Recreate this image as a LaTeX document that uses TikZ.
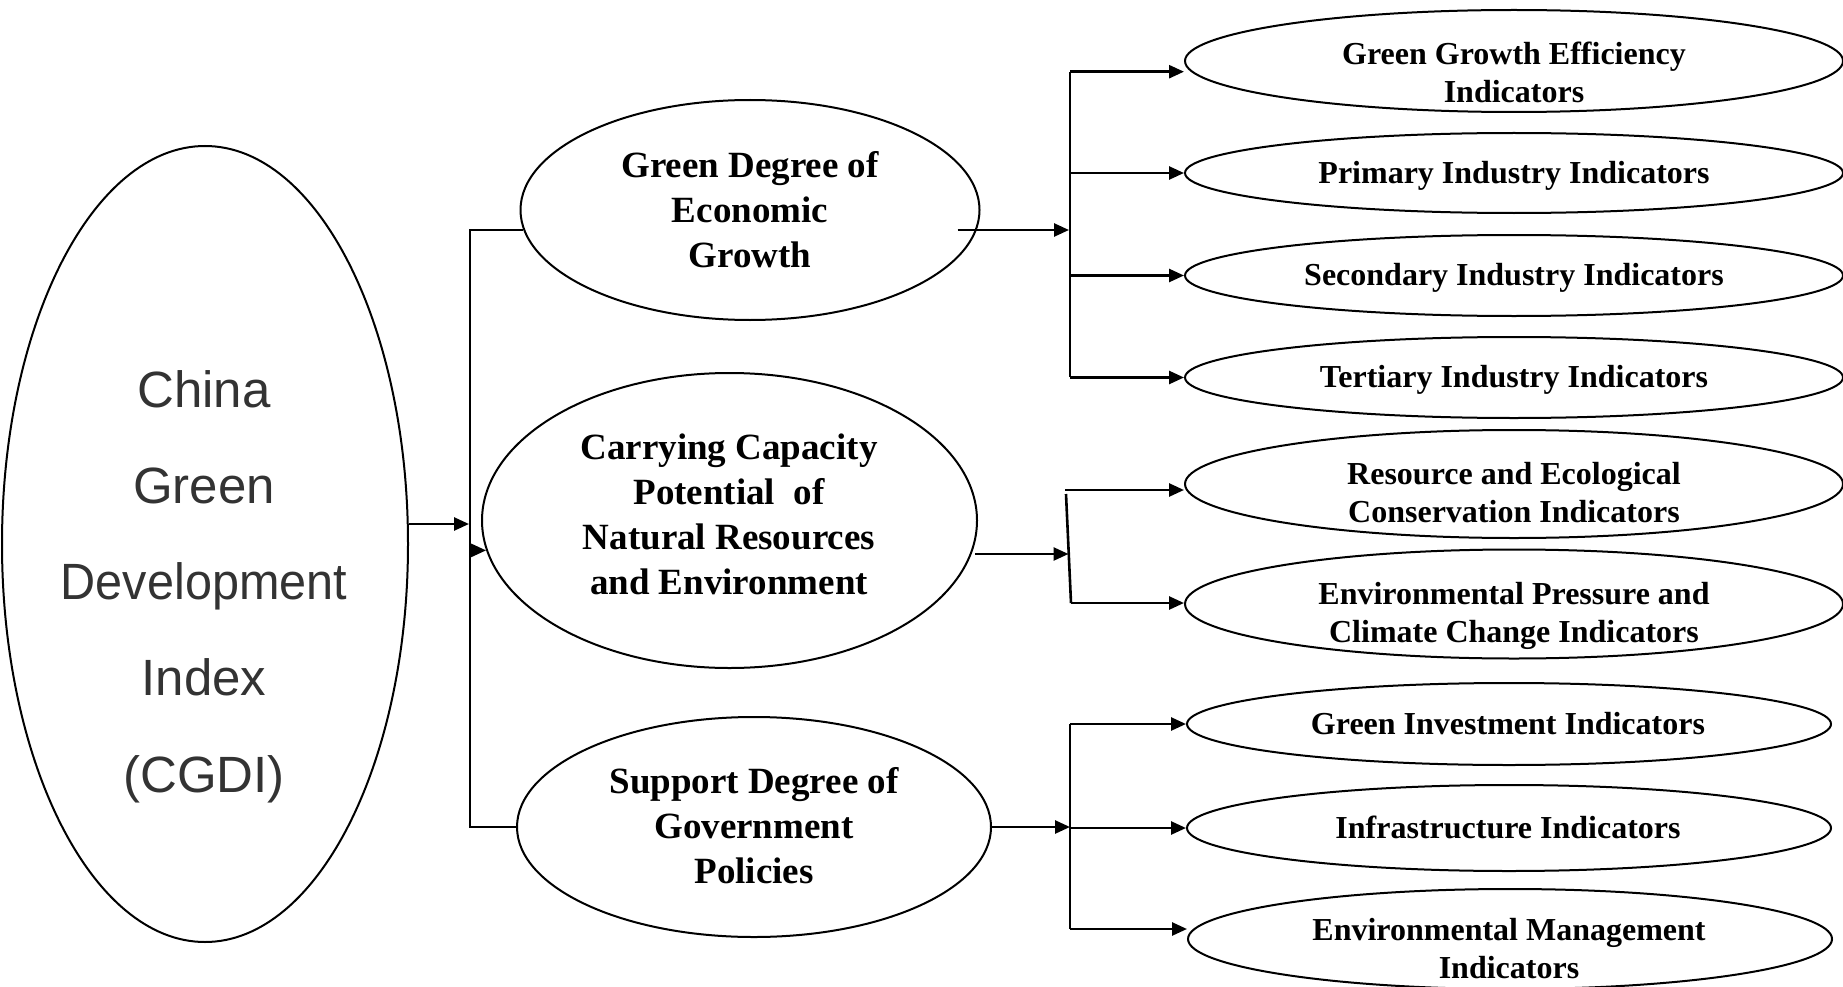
\documentclass[tikz,border=0pt]{standalone}
\usepackage{fontspec}
\usepackage{graphicx}
\setmainfont{Liberation Serif}
\newfontfamily\cgdifont{Liberation Sans}
\usetikzlibrary{arrows.meta,shapes.geometric}
\definecolor{cgdigray}{HTML}{333333}
\begin{document}
\begin{tikzpicture}[x=1pt,y=-1pt,
  ellbox/.style={draw=black, line width=2pt, ellipse, inner sep=0pt},
  bigtxt/.style={font=\cgdifont\fontsize{51}{96.25}\selectfont, text=cgdigray, align=center, inner sep=0pt},
  midtxt/.style={font=\fontsize{37}{45}\selectfont\bfseries, align=center, inner sep=0pt},
  rtxt/.style={font=\fontsize{32}{38}\selectfont\bfseries, align=center, inner sep=0pt},
  conn/.style={draw=black, line width=2.6pt, line join=miter},
  arrconn/.style={conn, -{Triangle[length=15pt,width=13pt]}}]
\useasboundingbox (0,0) rectangle (1843,987);

% left big ellipse
\node[ellbox, minimum width=406pt, minimum height=796pt] (CGDI) at (205,544) {};
\node[bigtxt] (CGDIt) at (204,586.5) {China\\Green\\\scalebox{0.953}[1]{Development}\\Index\\(CGDI)};

% middle ellipses
\node[ellbox, minimum width=459pt, minimum height=220pt] (M1) at (750,210) {};
\node[midtxt] (M1t) at (750,209.25) {Green Degree of\\Economic\\Growth};
\node[ellbox, minimum width=495pt, minimum height=295pt] (M2) at (729.5,520.5) {};
\node[midtxt] (M2t) at (729,514.75) {Carrying Capacity\\Potential\hspace{0.5em}of\\Natural Resources\\and Environment};
\node[ellbox, minimum width=474pt, minimum height=220pt] (M3) at (754,827) {};
\node[midtxt] (M3t) at (754,825.2) {Support Degree of\\Government\\Policies};

% right ellipses
\node[ellbox, minimum width=658pt, minimum height=102pt] (E1) at (1514,61) {};
\node[rtxt] (E1t) at (1514,72) {Green Growth Efficiency\\Indicators};
\node[ellbox, minimum width=658pt, minimum height=80pt] (E2) at (1514,173) {};
\node[rtxt, anchor=base] (E2t) at (1514,183) {Primary Industry Indicators};
\node[ellbox, minimum width=658pt, minimum height=81pt] (E3) at (1514,275.5) {};
\node[rtxt, anchor=base] (E3t) at (1514,285.7) {Secondary Industry Indicators};
\node[ellbox, minimum width=658pt, minimum height=81pt] (E4) at (1514,377.5) {};
\node[rtxt, anchor=base] (E4t) at (1514,387) {Tertiary Industry Indicators};
\node[ellbox, minimum width=658pt, minimum height=108pt] (E5) at (1514,484) {};
\node[rtxt] (E5t) at (1514,493) {Resource and Ecological\\Conservation Indicators};
\node[ellbox, minimum width=658pt, minimum height=109pt] (E6) at (1514,604) {};
\node[rtxt] (E6t) at (1514,615.5) {Environmental Pressure and\\Climate Change Indicators};
\node[ellbox, minimum width=644pt, minimum height=82pt] (E7) at (1509,724) {};
\node[rtxt, anchor=base] (E7t) at (1508,734) {Green Investment Indicators};
\node[ellbox, minimum width=644pt, minimum height=86pt] (E8) at (1509,828) {};
\node[rtxt, anchor=base] (E8t) at (1508,838) {Infrastructure Indicators};
\node[ellbox, minimum width=644pt, minimum height=100pt] (E9) at (1510,939) {};
\node[rtxt] (E9t) at (1509,949) {Environmental Management\\Indicators};

% left connectors
\coordinate (busB) at (470,827);
\coordinate (cin) at (469,524);
\draw[conn] (M1.185.85) -| (busB) -- (M3.west);
\draw[arrconn] ([yshift=20pt]CGDI.east) -- (cin);
\draw[arrconn] (M2.187.66 -| busB) -- (M2.187.66);

% group 1
\coordinate (g1a) at (1070,71.7);
\coordinate (g1d) at (1070,377);
\coordinate (g1in) at (1069,230);
\draw[conn] (g1a) -- (g1d);
\draw[arrconn] ([xshift=-23pt,yshift=-20pt]M1.east) -- (g1in);
\draw[arrconn] (g1a) -- (g1a -| E1.west);
\draw[arrconn] (E2.west -| g1a) -- (E2.west);
\draw[arrconn] (E3.west -| g1a) -- (E3.west);
\draw[arrconn] (E4.west -| g1a) -- (E4.west);

% group 2
\coordinate (g2t) at (1066,494);
\coordinate (g2b) at (1071,603);
\coordinate (g2in) at (1068.5,554);
\coordinate (g2a) at (1065,490);
\draw[conn] (g2t) -- (g2b);
\draw[arrconn] ([xshift=-3pt,yshift=-33.5pt]M2.east) -- (g2in);
\draw[arrconn] (g2a) -- (g2a -| E5.west);
\draw[arrconn] (g2b) -- (g2b -| E6.west);

% group 3
\coordinate (g3a) at (1070,724);
\coordinate (g3c) at (1070,929);
\draw[conn] (g3a) -- (g3c);
\draw[arrconn] (M3.east) -- (M3.east -| g3a);
\draw[arrconn] (E7.west -| g3a) -- (E7.west);
\draw[arrconn] (E8.west -| g3a) -- (E8.west);
\draw[arrconn] (g3c) -- (g3c -| E9.west);
\end{tikzpicture}
\end{document}
